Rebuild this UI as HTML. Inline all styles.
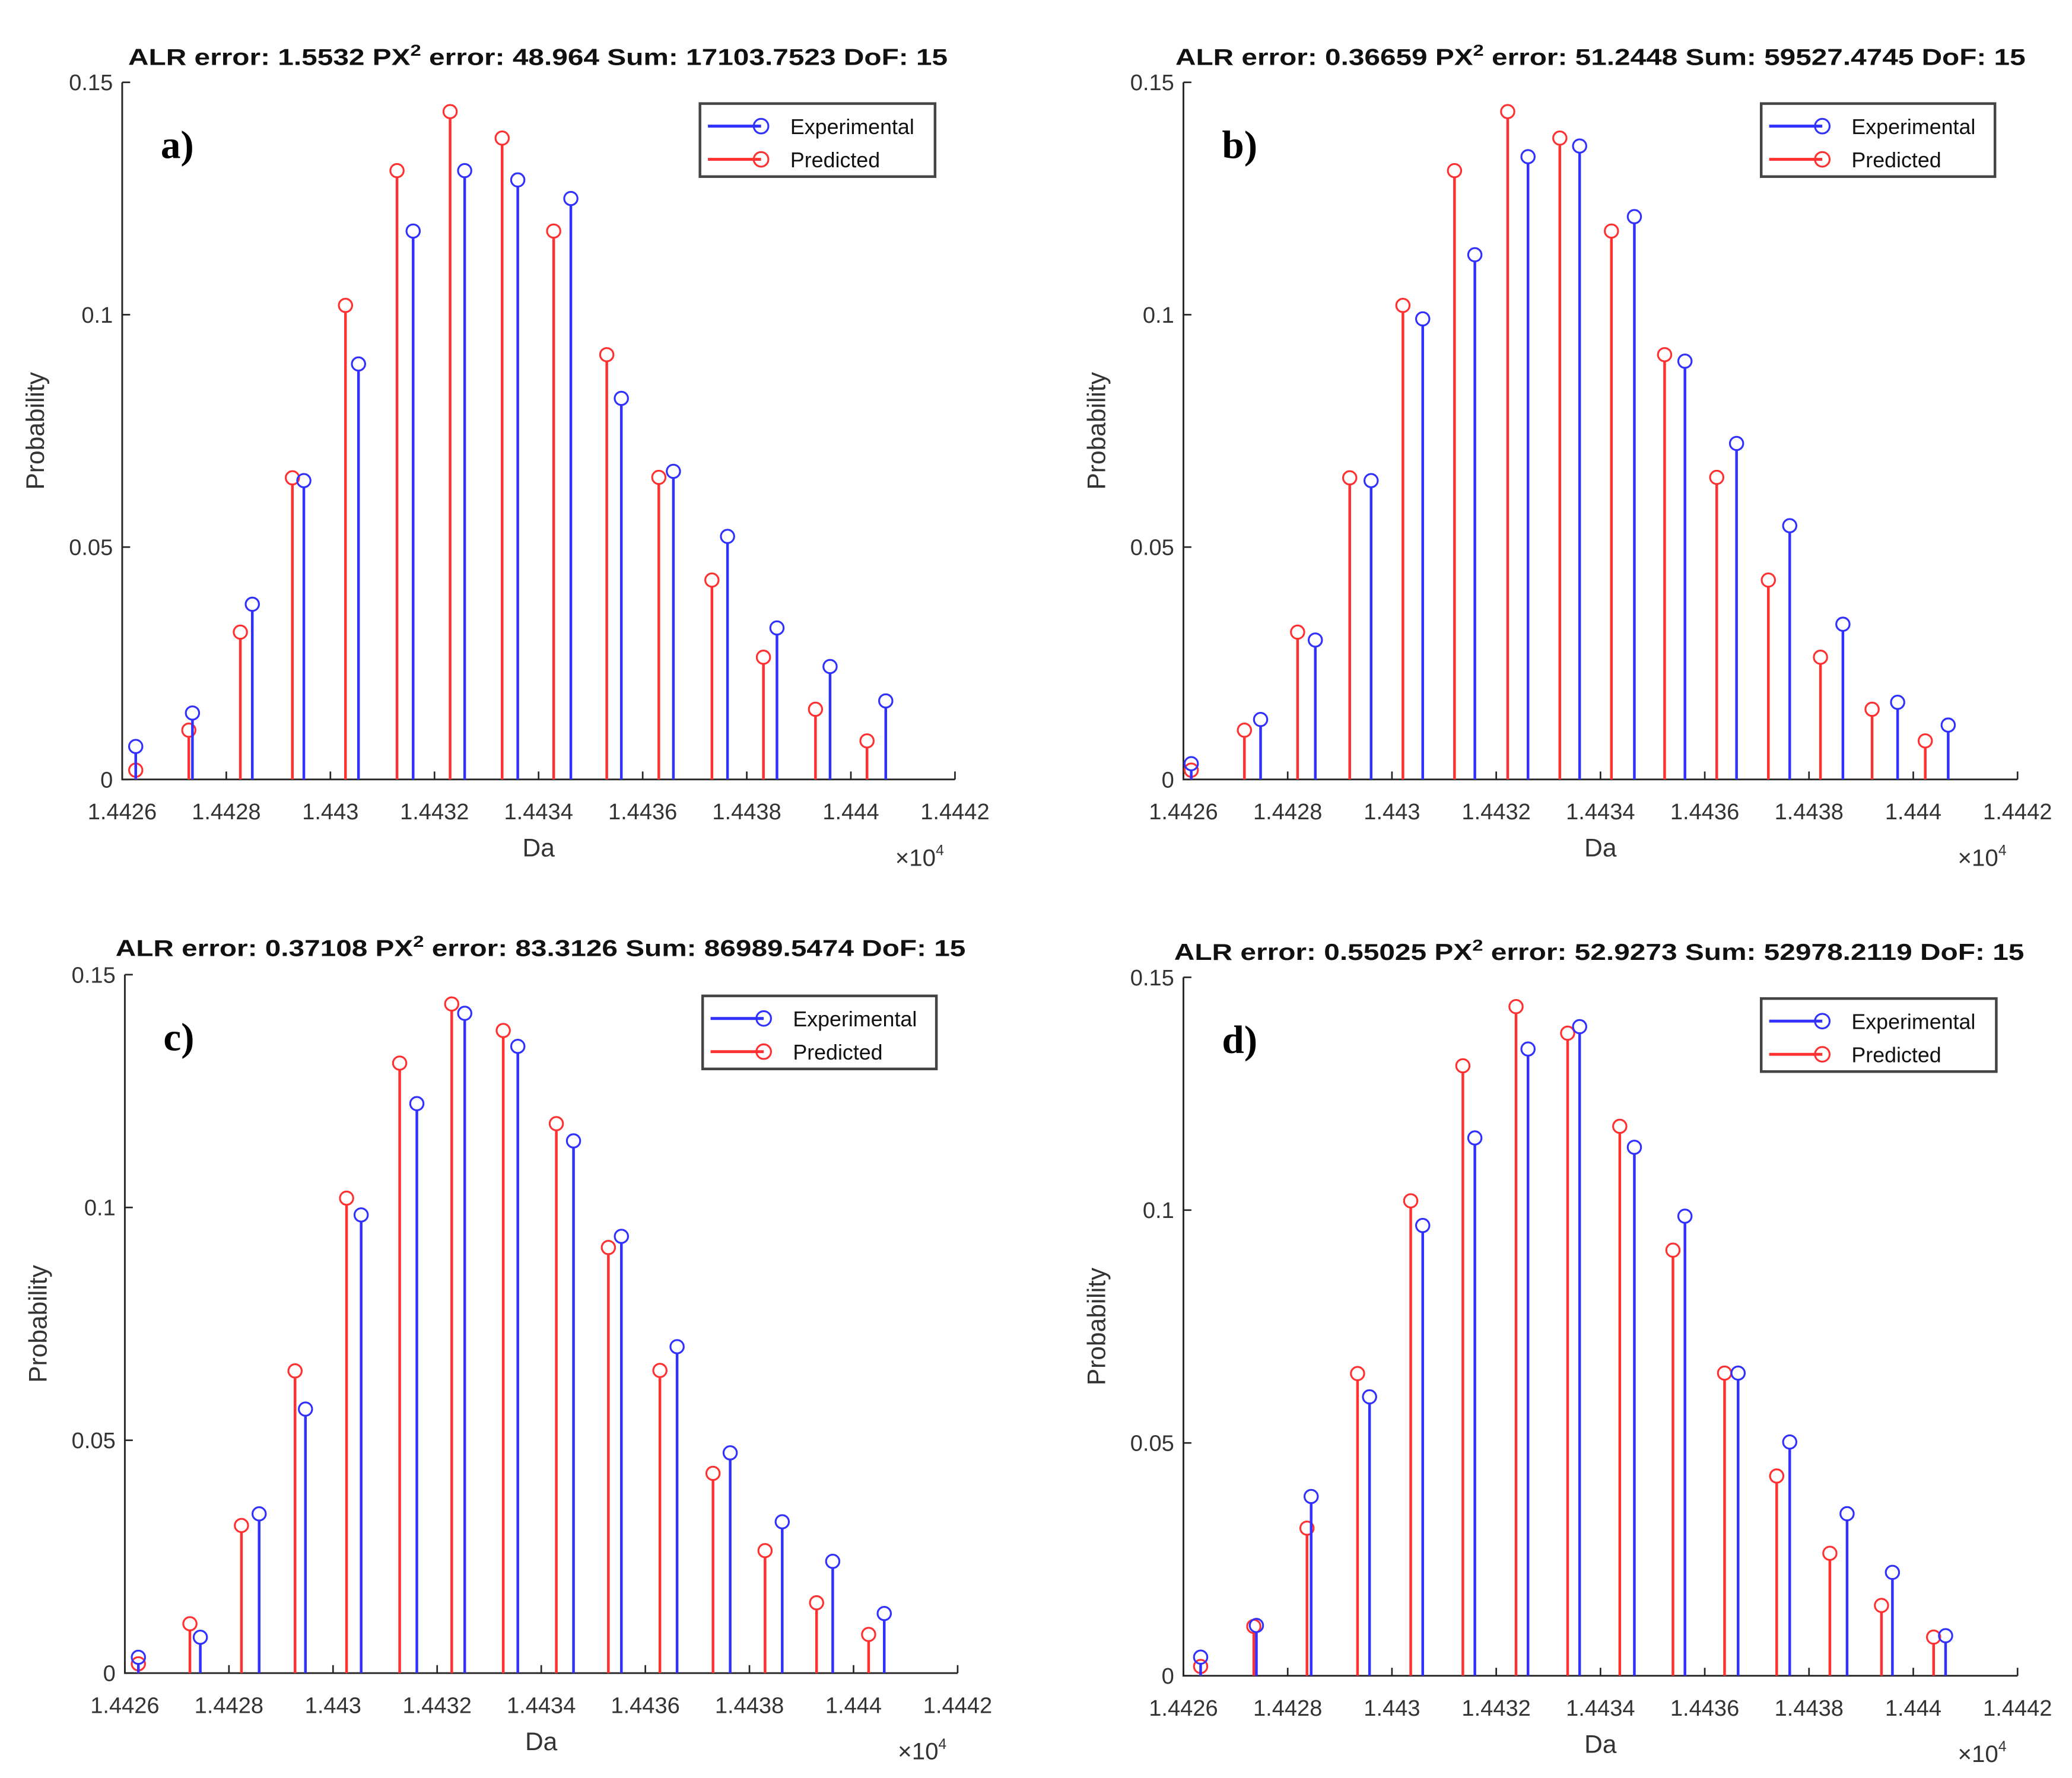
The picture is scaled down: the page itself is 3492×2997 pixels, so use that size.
<!DOCTYPE html>
<html><head><meta charset="utf-8"><style>
html,body{margin:0;padding:0;background:#fff}
svg{display:block}
text{font-family:"Liberation Sans",Arial,sans-serif}
</style></head><body>
<svg id="fig" width="3492" height="2997" viewBox="0 0 1560 1339" preserveAspectRatio="none" xmlns="http://www.w3.org/2000/svg"></svg>
<script>
const predY = [0.002,0.0106,0.0317,0.0649,0.102,0.131,0.1437,0.138,0.118,0.0914,0.065,0.0429,0.0263,0.0151,0.0083];
const aPredX = [14426.26,14427.28,14428.27,14429.27,14430.29,14431.28,14432.30,14433.30,14434.29,14435.31,14436.31,14437.33,14438.32,14439.32,14440.31];
const aExpX = [14426.26,14427.35,14428.50,14429.49,14430.54,14431.59,14432.58,14433.60,14434.62,14435.59,14436.59,14437.63,14438.58,14439.60,14440.67];
const aExpY = [0.0071,0.0143,0.0377,0.0643,0.0894,0.118,0.131,0.129,0.125,0.082,0.0663,0.0523,0.0326,0.0243,0.0169];
const bPredX = [14426.15,14427.17,14428.19,14429.19,14430.21,14431.20,14432.22,14433.22,14434.21,14435.23,14436.23,14437.22,14438.22,14439.21,14440.23];
const bExpX = [14426.15,14427.48,14428.53,14429.60,14430.59,14431.59,14432.61,14433.60,14434.65,14435.62,14436.61,14437.63,14438.65,14439.70,14440.67];
const bExpY = [0.0034,0.0129,0.030,0.0643,0.0991,0.1129,0.134,0.1363,0.1211,0.090,0.0723,0.0546,0.0334,0.0166,0.0117];
const cPredX = [14426.26,14427.25,14428.24,14429.27,14430.26,14431.28,14432.28,14433.27,14434.29,14435.29,14436.28,14437.30,14438.30,14439.29,14440.29];
const cExpX = [14426.26,14427.45,14428.58,14429.47,14430.54,14431.61,14432.53,14433.55,14434.62,14435.54,14436.61,14437.63,14438.63,14439.60,14440.59];
const cExpY = [0.0034,0.0077,0.0342,0.0567,0.0984,0.1223,0.1417,0.1346,0.1143,0.0938,0.0701,0.0473,0.0325,0.024,0.0128];
const dPredX = [14426.33,14427.35,14428.37,14429.34,14430.36,14431.36,14432.38,14433.37,14434.37,14435.39,14436.38,14437.38,14438.40,14439.39,14440.39];
const dExpX = [14426.33,14427.40,14428.45,14429.57,14430.59,14431.59,14432.61,14433.60,14434.65,14435.62,14436.64,14437.63,14438.73,14439.60,14440.62];
const dExpY = [0.004,0.0108,0.0385,0.0599,0.0967,0.1155,0.1346,0.1394,0.1135,0.0987,0.065,0.0502,0.0348,0.0222,0.0086];
const xTickLabels = ["1.4426","1.4428","1.443","1.4432","1.4434","1.4436","1.4438","1.444","1.4442"];
const xTickVals = [14426,14428,14430,14432,14434,14436,14438,14440,14442];
const yTickVals = [0,0.05,0.1,0.15];
const yTickLabels = ["0","0.05","0.1","0.15"];
const titles = ["ALR error: 1.5532 PX|2| error: 48.964 Sum: 17103.7523 DoF: 15",
"ALR error: 0.36659 PX|2| error: 51.2448 Sum: 59527.4745 DoF: 15",
"ALR error: 0.37108 PX|2| error: 83.3126 Sum: 86989.5474 DoF: 15",
"ALR error: 0.55025 PX|2| error: 52.9273 Sum: 52978.2119 DoF: 15"];

const NS="http://www.w3.org/2000/svg";
const svg=document.getElementById('fig');
function mk(tag,attrs,parent){const e=document.createElementNS(NS,tag);for(const k in attrs)e.setAttribute(k,attrs[k]);(parent||svg).appendChild(e);return e;}
const BLUE="#3030ff", RED="#ff3030";
const panels=[
 {id:'a',x0:92,x1:719,yt:62,yb:587,tx:405,ty:49,tl:617,lg:[527,78,177,55],exp:[aExpX,aExpY],pred:[aPredX,predY]},
 {id:'b',x0:891,x1:1519,yt:62,yb:587,tx:1205,ty:49,tl:640,lg:[1326,78,176,55],exp:[bExpX,bExpY],pred:[bPredX,predY]},
 {id:'c',x0:94,x1:721,yt:734,yb:1260,tx:407,ty:720,tl:640,lg:[529,750,176,55],exp:[cExpX,cExpY],pred:[cPredX,predY]},
 {id:'d',x0:891,x1:1519,yt:736,yb:1262,tx:1204,ty:723,tl:640,lg:[1326,752,177,55],exp:[dExpX,dExpY],pred:[dPredX,predY]}
];
panels.forEach((p,pi)=>{
 const g=mk('g',{});
 
 
 const xs=v=>p.x0+(v-14426)/16*(p.x1-p.x0);
 const ys=v=>p.yb-v/0.15*(p.yb-p.yt);
 const parts=titles[pi].split('|');
 const t=mk('text',{x:p.tx,y:p.ty,'text-anchor':'middle','font-size':17.5,'font-weight':'bold',fill:'#111',textLength:p.tl,lengthAdjust:'spacingAndGlyphs'},g);
 
 
 mk('tspan',{},t).textContent=parts[0];
 mk('tspan',{dy:-7,'font-size':12},t).textContent=parts[1];
 mk('tspan',{dy:7},t).textContent=parts[2];
 const ax=mk('path',{d:`M${p.x0},${p.yt}V${p.yb}H${p.x1}`,stroke:'#262626','stroke-width':1.3,fill:'none'},g);
 
 
 xTickVals.forEach((v,i)=>{
  mk('line',{x1:xs(v),x2:xs(v),y1:p.yb,y2:p.yb-6,stroke:'#262626','stroke-width':1.2},g);
  const tl=mk('text',{x:xs(v),y:p.yb+30,'text-anchor':'middle','font-size':17,fill:'#333'},g);
  
  
  tl.textContent=xTickLabels[i];
 });
 yTickVals.forEach((v,i)=>{
  mk('line',{x1:p.x0,x2:p.x0+6,y1:ys(v),y2:ys(v),stroke:'#262626','stroke-width':1.2},g);
  const tl=mk('text',{x:p.x0-7,y:ys(v)+6,'text-anchor':'end','font-size':17,fill:'#333'},g);
  
  
  tl.textContent=yTickLabels[i];
 });
 const yl=mk('text',{x:0,y:0,'text-anchor':'middle','font-size':19,fill:'#333',transform:`translate(${p.x0-59},${(p.yt+p.yb)/2}) rotate(-90)`},g);
 
 
 yl.textContent='Probability';
 const xl=mk('text',{x:(p.x0+p.x1)/2,y:p.yb+58,'text-anchor':'middle','font-size':19,fill:'#333'},g);
 
 
 xl.textContent='Da';
 const ex=mk('text',{x:p.x1-45,y:p.yb+65,'font-size':18,fill:'#333'},g);
 
 
 ex.textContent='\u00d710';
 mk('tspan',{dy:-8,'font-size':11},ex).textContent='4';
 const pl=mk('text',{x:p.x0+29,y:p.yt+57,'font-size':30,'font-weight':'bold',fill:'#000',style:'font-family:"Liberation Serif",serif'},g);
 
 
 pl.textContent=p.id+')';
 [[p.pred,RED,'predicted'],[p.exp,BLUE,'experimental']].forEach(([s,c,nm])=>{
  s[0].forEach((xv,i)=>{
   const X=xs(xv),Y=ys(s[1][i]);
   const st=mk('line',{x1:X,x2:X,y1:p.yb,y2:Y+5,stroke:c,'stroke-width':2},g);
   
   
   const ci=mk('circle',{cx:X,cy:Y,r:5,fill:'none',stroke:c,'stroke-width':1.4},g);
   
   
  });
 });
 const [lx,ly,lw,lh]=p.lg;
 const lgG=mk('g',{},g);
 
 
 mk('rect',{x:lx,y:ly,width:lw,height:lh,fill:'#fff',stroke:'#444','stroke-width':2},lgG);
 [['Experimental',BLUE,17],['Predicted',RED,42]].forEach(([lab,c,dy])=>{
  const e=mk('g',{},lgG);
  
  
  mk('line',{x1:lx+6,x2:lx+46,y1:ly+dy,y2:ly+dy,stroke:c,'stroke-width':2.2},e);
  mk('circle',{cx:lx+46,cy:ly+dy,r:5.5,fill:'none',stroke:c,'stroke-width':1.4},e);
  const tt=mk('text',{x:lx+68,y:ly+dy+6,'font-size':16,fill:'#111'},e);
  tt.textContent=lab;
 });
});
</script>
</body></html>
